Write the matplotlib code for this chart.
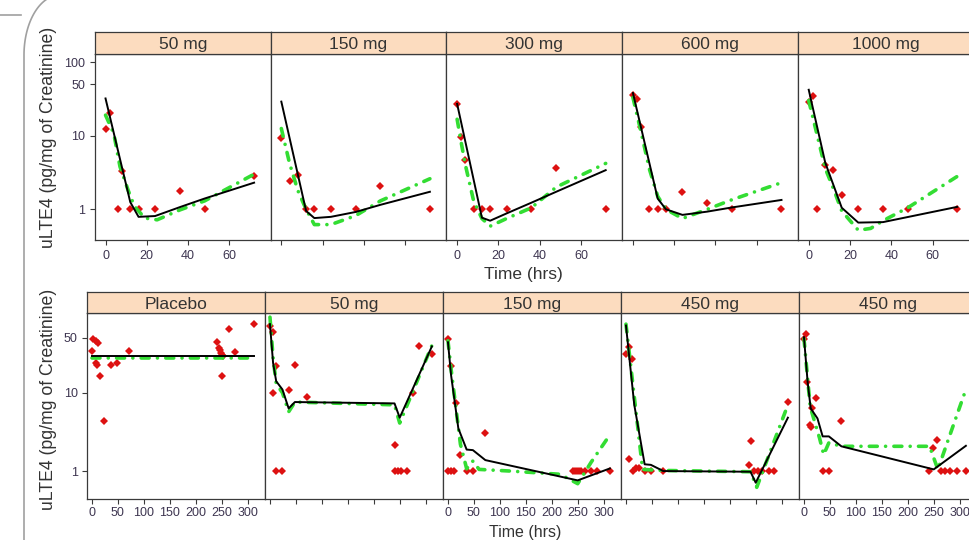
import numpy as np
import matplotlib
matplotlib.use('Agg')
import matplotlib.pyplot as plt
from matplotlib.lines import Line2D
from matplotlib.ticker import NullLocator

plt.rcParams['font.family'] = ['Liberation Sans', 'DejaVu Sans']

W, H = 969, 540

# ---------- top lattice (single dose, 0-72 h) ----------
top_titles = ['50 mg', '150 mg', '300 mg', '600 mg', '1000 mg']
top_obs_t = [
    [0, 2, 6, 8, 12, 16, 24, 36, 48, 72],
    [0, 4, 8, 12, 16, 24, 36, 48, 72],
    [0, 2, 4, 8, 12, 16, 24, 36, 48, 72],
    [0, 2, 4, 8, 12, 16, 24, 36, 48, 72],
    [0, 2, 4, 8, 12, 16, 24, 36, 48, 72],
]
top_obs_v = [
    [12.2, 20, 1.0, 3.3, 1.0, 1.0, 1.0, 1.75, 1.0, 2.8],
    [9.4, 2.4, 2.9, 1.0, 1.0, 1.0, 1.0, 2.07, 1.0],
    [27, 9.7, 4.7, 1.0, 1.0, 1.0, 1.0, 1.0, 3.6, 1.0],
    [35.6, 31.4, 13.2, 1.0, 1.0, 1.0, 1.74, 1.23, 1.0, 1.0],
    [28.9, 34.8, 1.0, 4.0, 3.4, 1.56, 1.0, 1.0, 1.0, 1.0],
]
top_pred_t = [
    [0, 12, 16, 24, 36, 48, 72],
    [0, 12, 16, 24, 36, 48, 72],
    [0, 12, 16, 24, 36, 48, 72],
    [0, 12, 16, 24, 36, 48, 72],
    [0, 8, 16, 24, 36, 72],
]
top_pred_v = [
    [32, 1.25, 0.79, 0.81, 1.07, 1.4, 2.3],
    [29, 0.95, 0.76, 0.79, 0.92, 1.15, 1.73],
    [27, 0.77, 0.70, 0.88, 1.23, 1.73, 3.4],
    [38, 1.4, 1.0, 0.84, 0.93, 1.06, 1.34],
    [42, 4.3, 1.05, 0.66, 0.67, 1.08],
]
top_ipred_t = [
    [0, 4, 7, 11, 14, 19, 25, 36, 48, 72],
    [0, 4, 8, 12, 16, 24, 36, 48, 72],
    [0, 2, 4, 8, 12, 16, 24, 36, 48, 72],
    [0, 4, 8, 12, 16, 24, 36, 48, 72],
    [0, 8, 12, 16, 24, 30, 36, 48, 72],
]
top_ipred_v = [
    [19, 10.7, 3.8, 1.8, 1.1, 0.76, 0.72, 0.98, 1.3, 3.0],
    [12.5, 4.2, 1.8, 1.0, 0.62, 0.62, 0.82, 1.3, 2.6],
    [16.7, 8, 4, 1.3, 0.75, 0.59, 0.75, 1.05, 2.0, 4.2],
    [33, 11, 3.5, 1.5, 1.0, 0.75, 1.0, 1.35, 2.3],
    [30, 3.6, 1.9, 0.95, 0.52, 0.55, 0.7, 1.05, 2.8],
]

# ---------- bottom lattice (multiple dose, 0-312 h) ----------
bot_titles = ['Placebo', '50 mg', '150 mg', '450 mg', '450 mg']
bot_obs_t = [
    [0, 2, 8, 12, 7, 10, 16, 24, 36, 48, 72, 240, 244, 246, 248, 250, 252, 250, 264, 276, 312],
    [0, 6, 12, 6, 12, 24, 36, 48, 72, 240, 240, 246, 252, 264, 276, 288, 312],
    [0, 6, 16, 24, 0, 6, 12, 36, 48, 72, 240, 244, 248, 252, 256, 264, 276, 288, 312],
    [0, 5, 11, 6, 14, 20, 25, 36, 48, 72, 240, 238, 247, 254, 262, 275, 286, 312],
    [0, 4, 6, 12, 14, 16, 24, 36, 48, 72, 240, 248, 256, 264, 272, 282, 294, 312],
]
bot_obs_v = [
    [34, 48, 45.5, 42.6, 23.6, 22.4, 16.4, 4.4, 22.4, 23.6, 34, 44.8, 37, 35, 32, 30, 29, 16.4, 65, 33, 75],
    [72, 60, 22, 9.8, 1.0, 1.0, 10.8, 22.4, 8.9, 2.13, 1.0, 1.0, 1.0, 1.0, 10, 40, 31],
    [49, 22, 7.3, 1.58, 1.0, 1.0, 1.0, 1.0, 1.0, 3.1, 1.0, 1.0, 1.0, 1.0, 1.0, 1.0, 1.0, 1.0, 1.0],
    [31, 38, 27, 1.44, 1.0, 1.1, 1.1, 1.0, 1.0, 1.0, 2.4, 1.19, 1.0, 1.0, 1.0, 1.0, 1.0, 7.5],
    [49, 56, 13.8, 3.9, 3.6, 6.3, 8.6, 1.0, 1.0, 4.3, 1.0, 1.98, 2.47, 1.0, 1.0, 1.0, 1.0, 1.0],
]
bot_pred_t = [
    [0, 312],
    [0, 6, 12, 24, 36, 48, 240, 250, 312],
    [0, 6, 20, 36, 48, 72, 250, 312],
    [0, 16, 36, 48, 72, 240, 250, 312],
    [0, 7, 13, 26, 36, 48, 72, 250, 312],
]
bot_pred_v = [
    [29.5, 29.5],
    [75, 24, 14, 11, 6.3, 7.6, 7.3, 4.8, 39],
    [44, 16.7, 3.5, 1.88, 1.85, 1.38, 0.76, 1.08],
    [72, 7, 1.22, 1.2, 1.0, 0.98, 0.71, 4.8],
    [51, 13.8, 6.3, 4.7, 2.77, 2.77, 2.07, 1.05, 2.1],
]
bot_ipred_t = [
    [0, 312],
    [0, 6, 12, 24, 36, 48, 240, 250, 312],
    [0, 6, 24, 36, 48, 60, 120, 216, 250, 276, 312],
    [0, 32, 64, 240, 252, 312],
    [0, 12, 30, 38, 48, 72, 242, 258, 312],
]
bot_ipred_v = [
    [28, 28],
    [92, 28, 13, 10, 5.7, 7.6, 7.0, 4.1, 40],
    [46, 20, 2.2, 1.07, 1.34, 1.05, 1.0, 0.91, 0.69, 1.3, 2.9],
    [75, 1.05, 1.02, 0.98, 0.62, 7],
    [49, 6.6, 2.64, 1.62, 2.3, 2.07, 2.07, 1.05, 11],
]

STRIP = '#fcdcbf'
FRAME = '#3a3a3a'
TICKC = '#3d3550'
RED = '#dd1111'
GREEN = '#33dd33'


def ax_px(l, t, w, h):
    # pixel box (left, top, width, height) -> figure axes
    return fig.add_axes([l / W, 1 - (t + h) / H, w / W, h / H])


def draw_row(titles, obs_t, obs_v, pred_t, pred_v, ipred_t, ipred_v,
             left, pw, strip_top, strip_h, plot_h, xlim, ylim, xticks, yticks,
             tpad=3.5):
    for i in range(5):
        l = left + i * pw
        ax = ax_px(l, strip_top + strip_h, pw, plot_h)
        ax.set_yscale('log')
        ax.plot(obs_t[i], obs_v[i], 'D', color=RED, ms=3.6, mew=0, zorder=2)
        ax.plot(ipred_t[i], ipred_v[i], color=GREEN, lw=2.6,
                ls=(0, (2.2, 2.3, 0.01, 2.3)), dash_capstyle='round', zorder=3)
        ax.plot(pred_t[i], pred_v[i], color='black', lw=1.4, zorder=4)
        ax.set_xlim(*xlim)
        ax.set_ylim(*ylim)
        ax.set_xticks(xticks)
        ax.yaxis.set_minor_locator(NullLocator())
        ax.xaxis.set_minor_locator(NullLocator())
        if i % 2 == 0:
            ax.set_xticklabels([str(v) for v in xticks])
        else:
            ax.set_xticklabels([])
        if i == 0:
            ax.set_yticks(yticks)
            ax.set_yticklabels([str(v) for v in yticks])
        else:
            ax.set_yticks([])
        ax.tick_params(direction='out', length=3.5, width=0.8, color=FRAME,
                       labelcolor=TICKC, labelsize=9, pad=3.5)
        ax.tick_params(axis='x', pad=tpad)
        for s in ax.spines.values():
            s.set_color(FRAME)
            s.set_linewidth(0.9)

        st = ax_px(l, strip_top, pw, strip_h)
        st.set_facecolor(STRIP)
        st.set_xticks([])
        st.set_yticks([])
        for s in st.spines.values():
            s.set_color(FRAME)
            s.set_linewidth(0.9)
        st.text(0.5, 0.42, titles[i], ha='center', va='center',
                fontsize=12.5, color='#333333', transform=st.transAxes)


fig = plt.figure(figsize=(W / 100, H / 100), dpi=100)
fig.patch.set_facecolor('white')

draw_row(top_titles, top_obs_t, top_obs_v, top_pred_t, top_pred_v,
         top_ipred_t, top_ipred_v,
         left=94.8, pw=175.8, strip_top=32, strip_h=22, plot_h=186,
         xlim=(-5.2, 80), ylim=(0.383, 128.5), xticks=[0, 20, 40, 60],
         yticks=[1, 10, 50, 100])

draw_row(bot_titles, bot_obs_t, bot_obs_v, bot_pred_t, bot_pred_v,
         bot_ipred_t, bot_ipred_v,
         left=87.3, pw=178, strip_top=292, strip_h=21, plot_h=186,
         xlim=(-9, 334), ylim=(0.44, 104), xticks=[0, 50, 100, 150, 200, 250, 300],
         yticks=[1, 10, 50], tpad=2.0)

ylab = 'uLTE4 (pg/mg of Creatinine)'
fig.text(49 / W, 1 - 137 / H, ylab, rotation=90, ha='center', va='center',
         fontsize=12.7, color='#333333')
fig.text(49 / W, 1 - 399 / H, ylab, rotation=90, ha='center', va='center',
         fontsize=12.7, color='#333333')
fig.text(523 / W, 1 - 275 / H, 'Time (hrs)', ha='center', va='center',
         fontsize=12.5, color='#333333')
fig.text(525 / W, 1 - 539.5 / H, 'Time (hrs)', ha='center', va='bottom',
         fontsize=11.5, color='#333333')

# slide frame decoration at the left
ang = np.linspace(np.pi * 0.6, np.pi, 40)
fx = 60 + 36 * np.cos(ang)
fy = 55 - 60 * np.sin(ang)
fx = np.append(fx, 24)
fy = np.append(fy, 545)
fig.add_artist(Line2D(fx / W, 1 - fy / H, color='#a0a0a0', lw=1.2))
fig.add_artist(Line2D([0, 21 / W], [1 - 15 / H, 1 - 15 / H], color='#a0a0a0', lw=1.2))

fig.savefig('out.png', dpi=100)
